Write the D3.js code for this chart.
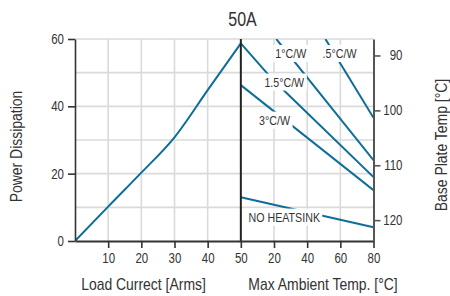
<!DOCTYPE html>
<html>
<head>
<meta charset="utf-8">
<script src="https://cdnjs.cloudflare.com/ajax/libs/d3/7.8.5/d3.min.js"></script>
<style>
  html, body { margin: 0; padding: 0; background: #fff; }
  svg { display: block; }
  text { font-family: "Liberation Sans", Arial, sans-serif; fill: #333; }
</style>
</head>
<body>
<svg id="chart" width="450" height="296"></svg>
<script>
// ---------- data ----------
const loadCurrent = [0, 10, 20, 30, 40, 50];                 // Arms
const powerDissipation = [0, 10.2, 20.3, 30.8, 44.8, 58.7];  // W

// derating lines: [ambient °C, power W]
const line05 = [[51, 60], [80, 36.6]];
const line1 = [[21.4, 60], [80, 24]];
const line15 = [[0, 58.7], [15.5, 50], [26.5, 44.5], [80, 19]];
const line3 = [[0, 46.3], [80, 15.1]];
const lineNoHeatsink = [[0, 13], [80, 4.1]];

const lineNames = [".5°C/W", "1°C/W", "1.5°C/W", "3°C/W", "NO HEATSINK"];

const leftTicks = [0, 20, 40, 60];
const xTicks = [10, 20, 30, 40, 50, 60, 70, 80, 90];
const gridX = [10, 20, 30, 40, 60, 70, 80];
const gridY = [10, 20, 30, 40, 50, 60];
const baseTempTicks = [90, 100, 110, 120];

// ---------- layout ----------
const svg = d3.select("#chart");
const margin = {left: 75, right: 76.5, top: 39, bottom: 55};
const W = 450 - margin.left - margin.right;
const H = 296 - margin.top - margin.bottom;
const g = svg.append("g").attr("transform", `translate(${margin.left},${margin.top})`);

const x = d3.scaleLinear().domain([0, 90]).range([0, W]);
const y = d3.scaleLinear().domain([0, 60]).range([H, 0]);
const yT = d3.scaleLinear().domain([87, 123.8]).range([0, H]);
const ambToX = a => 50 + a / 2;

const blue = "#0e6e98";
const NARROW = 0.82;
function condense(sel) {
  sel.each(function () {
    const len = this.getComputedTextLength();
    d3.select(this).attr("textLength", len * NARROW).attr("lengthAdjust", "spacingAndGlyphs");
  });
}

// grid
g.append("g").selectAll("line").data(gridX).join("line")
  .attr("x1", d => x(d)).attr("x2", d => x(d)).attr("y1", 0).attr("y2", H)
  .attr("stroke", "#dadada").attr("stroke-width", 1.6);
g.append("g").selectAll("line").data(gridY).join("line")
  .attr("x1", 0).attr("x2", W).attr("y1", d => y(d)).attr("y2", d => y(d))
  .attr("stroke", "#dadada").attr("stroke-width", 1.6);

// clip
svg.append("defs").append("clipPath").attr("id", "plotclip")
  .append("rect").attr("x", 0).attr("y", 0).attr("width", W).attr("height", H);

const plot = g.append("g").attr("clip-path", "url(#plotclip)");

// load curve
const loadLine = d3.line().x((d, i) => x(loadCurrent[i])).y(d => y(d)).curve(d3.curveMonotoneX);
plot.append("path").datum(powerDissipation).attr("d", loadLine)
  .attr("fill", "none").attr("stroke", blue).attr("stroke-width", 2);

// derating lines
const dLine = d3.line().x(d => x(ambToX(d[0]))).y(d => y(d[1]));
[line05, line1, line15, line3, lineNoHeatsink].forEach(l => {
  plot.append("path").datum(l).attr("d", dLine)
    .attr("fill", "none").attr("stroke", blue).attr("stroke-width", 2);
});

// labels with white boxes (positions in ambient/power)
const labelPos = [[59.5, 55.7], [30.1, 55.7], [26.2, 47.2], [20.3, 35.9], [26.2, 7.1]];
lineNames.forEach((name, i) => {
  const lg = g.append("g");
  const t = lg.append("text")
    .attr("x", x(ambToX(labelPos[i][0]))).attr("y", y(labelPos[i][1]))
    .attr("text-anchor", "middle").attr("dominant-baseline", "central")
    .attr("font-size", 13).text(name);
  condense(t);
  const bb = t.node().getBBox();
  lg.insert("rect", "text").attr("x", bb.x - 2).attr("y", bb.y - 1)
    .attr("width", bb.width + 4).attr("height", bb.height + 2).attr("fill", "#fff");
});

// divider
g.append("line").attr("x1", x(50)).attr("x2", x(50)).attr("y1", y(60)).attr("y2", y(0))
  .attr("stroke", "#222").attr("stroke-width", 2);

// left axis
const la = g.append("g").call(d3.axisLeft(y).tickValues(leftTicks).tickSize(7).tickSizeOuter(0).tickPadding(4));
la.attr("font-family", null).attr("font-size", null);
la.select(".domain").attr("stroke", "#333").attr("stroke-width", 1.6);
la.selectAll(".tick line").attr("stroke", "#333").attr("stroke-width", 1.6);
la.selectAll(".tick text").attr("font-size", 14).attr("fill", "#333");

// bottom axis
const ba = g.append("g").attr("transform", `translate(0,${H})`)
  .call(d3.axisBottom(x).tickValues(xTicks).tickSize(7).tickSizeOuter(0).tickPadding(5)
    .tickFormat(d => d <= 50 ? d : (d - 50) * 2));
ba.attr("font-family", null).attr("font-size", null);
ba.select(".domain").attr("stroke", "#333").attr("stroke-width", 2);
ba.selectAll(".tick line").attr("stroke", "#333").attr("stroke-width", 1.6);
ba.selectAll(".tick text").attr("font-size", 14).attr("fill", "#333");

// right axis
const ra = g.append("g").attr("transform", `translate(${W},0)`)
  .call(d3.axisRight(yT).tickValues(baseTempTicks).tickSize(7).tickSizeOuter(0));
ra.attr("font-family", null).attr("font-size", null);
ra.select(".domain").attr("stroke", "#555").attr("stroke-width", 2);
ra.selectAll(".tick line").attr("stroke", "#555").attr("stroke-width", 1.6);
ra.selectAll(".tick text").attr("font-size", 14).attr("text-anchor", "end").attr("x", 29).attr("fill", "#333");

condense(svg.selectAll(".tick text"));

// titles
const titles = svg.append("g");
titles.append("text").attr("x", 242.5).attr("y", 26).attr("text-anchor", "middle")
  .attr("font-size", 19.5).text("50A");
titles.append("text").attr("x", 143.5).attr("y", 290).attr("text-anchor", "middle")
  .attr("font-size", 17).text("Load Currect [Arms]");
titles.append("text").attr("x", 323).attr("y", 290).attr("text-anchor", "middle")
  .attr("font-size", 17).text("Max Ambient Temp. [°C]");
titles.append("text").attr("transform", "translate(22,146.5) rotate(-90)").attr("text-anchor", "middle")
  .attr("font-size", 17).text("Power Dissipation");
titles.append("text").attr("transform", "translate(447,145) rotate(-90)").attr("text-anchor", "middle")
  .attr("font-size", 17).text("Base Plate Temp [°C]");
condense(titles.selectAll("text"));
</script>
</body>
</html>
